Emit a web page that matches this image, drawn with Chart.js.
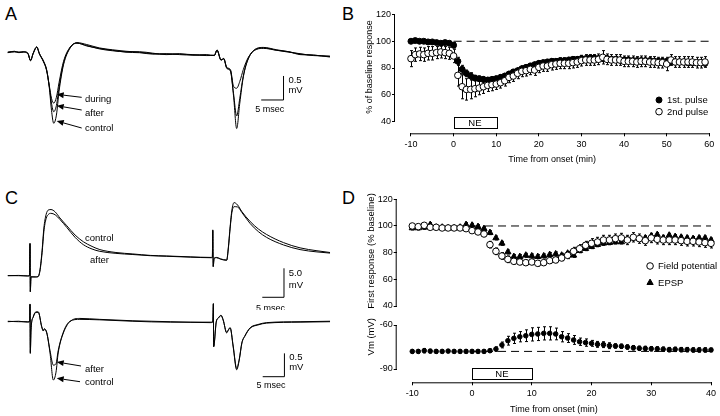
<!DOCTYPE html>
<html>
<head>
<meta charset="utf-8">
<script src="https://cdn.jsdelivr.net/npm/chart.js@4.4.0/dist/chart.umd.min.js"></script>
<style>
  html, body { margin: 0; padding: 0; background: #fff; }
  body { width: 720px; height: 416px; position: relative; overflow: hidden;
         font-family: "Liberation Sans", Arial, sans-serif; }
  canvas { position: absolute; }
  .tag { position: absolute; font-size: 18px; line-height: 18px; color: #000; }
</style>
</head>
<body>
<div class="tag" style="left:5px;top:4.6px">A</div>
<div class="tag" style="left:342px;top:4.6px">B</div>
<div class="tag" style="left:5px;top:189px">C</div>
<div class="tag" style="left:342px;top:189px">D</div>

<canvas id="traceA" style="left:0;top:25px" width="350" height="125"></canvas>
<canvas id="traceCtop" style="left:0;top:195px" width="350" height="115"></canvas>
<canvas id="traceCbot" style="left:0;top:295px" width="350" height="100"></canvas>
<canvas id="chartB" style="left:355px;top:0" width="365" height="170"></canvas>
<canvas id="chartDtop" style="left:355px;top:185px" width="365" height="130"></canvas>
<canvas id="chartDbot" style="left:355px;top:315px" width="365" height="101"></canvas>

<script>
const FONT = "'Liberation Sans', Arial, sans-serif";
Chart.defaults.font.family = FONT;
Chart.defaults.color = "#000";
Chart.defaults.animation = false;

// ─── Data: traces (ms, mV) ────────────────────────────────────

const A_CONTROL = [[-0.5,0.01],[1,0.03],[2,0],[3,0.02],[4,-0.01],[4.6,-0.17],[5.2,-0.01],[6,0.12],[6.6,-0.02],[7.5,-0.18],[8.2,-0.36],[8.8,-0.72],[9.3,-1.2],[9.8,-1.47],[10.4,-1.3],[11,-0.8],[12,-0.25],[13.5,0.1],[15,0.21],[17.2,0.17],[20,0.1],[23,0.06],[26,0.03],[29,0.01],[32,-0.02],[35,-0.03],[38,-0.02],[41,-0.05],[44,-0.05],[45.8,-0.06],[46.4,0.06],[47.3,-0.16],[47.9,-0.12],[48.6,-0.33],[49.4,-0.38],[50.1,-0.9],[50.8,-1.58],[51.5,-1.05],[52.3,-0.5],[53.4,-0.13],[55.3,0.09],[56.8,0.11],[59.8,0.06],[62.5,0.02],[65,-0.03],[68,-0.05],[71.7,-0.08]];
const A_AFTER = [[-0.5,0],[1,0.02],[2,0.01],[3,0.01],[4,-0.02],[4.6,-0.16],[5.2,-0.02],[6,0.11],[6.6,-0.03],[7.5,-0.19],[8.2,-0.37],[8.8,-0.7],[9.3,-1.05],[9.8,-1.23],[10.4,-1.1],[11,-0.72],[12,-0.22],[13.5,0.11],[15,0.2],[17.2,0.15],[20,0.08],[23,0.04],[26,0.02],[29,0.02],[32,-0.01],[35,-0.04],[38,-0.03],[41,-0.04],[44,-0.06],[45.8,-0.05],[46.4,0.05],[47.3,-0.15],[47.9,-0.13],[48.6,-0.32],[49.4,-0.37],[50.1,-0.85],[50.8,-1.32],[51.5,-0.95],[52.3,-0.48],[53.4,-0.12],[55.3,0.08],[56.8,0.1],[59.8,0.05],[62.5,0.01],[65,-0.02],[68,-0.06],[71.7,-0.07]];
const A_DURING = [[-0.5,0.01],[1,0.02],[2,0.01],[3,0.02],[4,-0.01],[4.6,-0.16],[5.2,-0.01],[6,0.12],[6.6,-0.02],[7.5,-0.17],[8.2,-0.35],[8.8,-0.68],[9.3,-0.95],[9.8,-1.05],[10.4,-0.93],[11,-0.62],[12,-0.18],[13.5,0.12],[15,0.2],[17.2,0.14],[20,0.09],[23,0.05],[26,0.01],[29,0],[32,-0.03],[35,-0.02],[38,-0.04],[41,-0.05],[44,-0.04],[45.8,-0.06],[46.4,0.05],[47.3,-0.15],[47.9,-0.12],[48.6,-0.31],[49.4,-0.35],[50.1,-0.7],[50.8,-0.74],[51.5,-0.6],[52.3,-0.35],[53.4,-0.1],[55.3,0.07],[56.8,0.09],[59.8,0.05],[62.5,0.02],[65,-0.04],[68,-0.05],[71.7,-0.09]];

const C_TOP_CONTROL = [[-0.5,0],[2,0.05],[4.1,-0.05],[4.5,0],[4.61,5.6],[4.68,-2.8],[4.84,-0.2],[5.8,-0.2],[6.45,-0.15],[6.9,1],[7.4,4.4],[7.8,8.2],[8.3,10.5],[8.9,11.35],[9.45,11.4],[10.4,11],[11.5,9.95],[13.1,8.6],[15,7],[16.9,5.85],[18.9,5.05],[20.7,4.5],[24.4,4],[28.3,3.75],[32.3,3.5],[36.1,3.4],[41.5,3.25],[46.4,3.15],[46.6,3.2],[46.7,7.9],[46.8,1.55],[47,3],[47.6,3.15],[48.5,2.9],[49.9,2.7],[50.3,5],[50.7,8.45],[51.1,11.3],[51.6,12.6],[52.4,12.2],[53.4,11.05],[55.3,9.35],[57.2,8.05],[59.1,7.1],[63,5.7],[66.8,4.8],[70.7,4.3],[73.7,4]];
const C_TOP_AFTER = [[-0.5,0.02],[2,0],[4.1,-0.03],[4.5,0],[4.61,5.5],[4.68,-2.7],[4.84,-0.2],[5.8,-0.22],[6.45,-0.18],[6.9,0.8],[7.4,4],[7.8,7.6],[8.3,9.8],[8.9,10.6],[9.45,10.75],[10.4,10.5],[11.5,9.7],[13.1,8.3],[15,6.6],[16.9,5.35],[18.9,4.6],[20.7,4.2],[24.4,3.85],[28.3,3.65],[32.3,3.45],[36.1,3.35],[41.5,3.2],[46.4,3.1],[46.6,3.15],[46.7,7.8],[46.8,1.6],[47,2.95],[47.6,3.1],[48.5,2.85],[49.9,2.65],[50.3,4.8],[50.7,8.2],[51.1,10.9],[51.6,11.9],[52.4,11.85],[53.4,10.9],[55.3,9],[57.2,7.6],[59.1,6.6],[63,5.3],[66.8,4.5],[70.7,4.1],[73.7,3.9]];

const C_BOT_CONTROL = [[-0.5,0],[2,0.01],[4.1,-0.01],[4.54,0.01],[4.61,0.38],[4.68,-0.68],[4.84,-0.18],[5.37,0.11],[5.99,0.21],[6.52,0.21],[7.3,-0.11],[7.67,-0.2],[7.9,-0.16],[8.46,-0.24],[9.22,-0.67],[9.98,-1.25],[10.6,-1.08],[11.1,-0.67],[12.3,-0.24],[13.8,0],[16.1,0.07],[20.7,0.05],[28.3,0.02],[36.9,0],[46.1,-0.02],[46.7,-0.01],[46.84,0.39],[46.9,-0.54],[47.5,-0.01],[48,0.08],[48.6,0.14],[49.1,0.04],[49.9,-0.24],[50.3,-0.18],[50.7,-0.13],[51.4,-0.54],[52.2,-1.03],[52.8,-0.82],[53.4,-0.46],[54.1,-0.31],[55.3,-0.14],[57.1,-0.07],[59.1,-0.03],[66.8,-0.01],[73.7,0]];
const C_BOT_AFTER = [[-0.5,0.01],[2,0],[4.1,0],[4.54,0],[4.61,0.37],[4.68,-0.66],[4.84,-0.17],[5.37,0.1],[5.99,0.2],[6.52,0.2],[7.3,-0.1],[7.67,-0.19],[7.9,-0.15],[8.46,-0.23],[9.22,-0.62],[9.98,-0.93],[10.6,-0.9],[11.1,-0.62],[12.3,-0.22],[13.8,0.01],[16.1,0.05],[20.7,0.04],[28.3,0.01],[36.9,-0.01],[46.1,-0.01],[46.7,0],[46.84,0.38],[46.9,-0.53],[47.5,0],[48,0.08],[48.6,0.13],[49.1,0.03],[49.9,-0.23],[50.3,-0.17],[50.7,-0.13],[51.4,-0.52],[52.2,-1.0],[52.8,-0.8],[53.4,-0.45],[54.1,-0.3],[55.3,-0.13],[57.1,-0.06],[59.1,-0.02],[66.8,0],[73.7,0.01]];

// ─── Data: panel B (time course, % of baseline) ───────────────

const B_TIME = [-10,-9,-8,-7,-6,-5,-4,-3,-2,-1,0,1,2,3,4,5,6,7,8,9,10,11,12,13,14,15,16,17,18,19,20,21,22,23,24,25,26,27,28,29,30,31,32,33,34,35,36,37,38,39,40,41,42,43,44,45,46,47,48,49,50,51,52,53,54,55,56,57,58,59];
const B_FIRST = [100,100.5,100,100,99.5,99.5,99,98.5,99,98.5, 97,85,79,76,74,72.5,72,71.5,71,71.5, 72,73,74,75.5,77,78,79.5,80.5,81.5,82.5, 83.5,84,84.5,85,85,85.5,85.5,86,86.5,86.5, 87,87,87.5,87.5,87,87,87,86.5,86.5,86, 86,86,85.5,85.5,85.5,85.5,85.5,85,85,85, 85,84.5,84.5,84.5,84.5,84,84,84,84,83.5];
const B_FIRST_ERR = [1,1,1,1,1,1,1,1.5,1.5,1.5, 2,3,3,2.5,2.5,2,2,2,2,2, 2,2,2,2,2,2,2,2,2,2, 2,2,2,2,2,2,2,2,2,2, 2,2,2,2,2,2,2,2,2,2, 2,2,2,2,2,2,2,2,2,2, 2,2,2,2,2,2,2,2,2,2];
const B_SECOND = [87,90,90.5,90,91,91,91.5,92,91.5,91, 89,74.5,66,64,64,64.5,65,66,67,67.5, 68,69,70.5,73,74,76,77.5,78,79,78.5, 80.5,81.5,81.5,82.5,83,83.5,83.5,83.5,84,84.5, 85.5,86,86,86,86.5,88,86.5,86,86,86, 85,85,85,84.5,85,85,84.5,84.5,84,84, 83,86,84.5,84.5,84.5,84.5,84.5,84,84,84.5];
const B_SECOND_ERR = [6,5,5,5,5,5,4.5,4.5,4.5,4.5, 5,8,9,8,7,6,5,5,4.5,4.5, 4,4,4,4,4,4,4,4,4,4, 4,4,4,4,4,4,4,4,4,4, 4,4,4,4,4,5,4,4,4,4, 4,4,4,4,4,4,4,4,4,4, 5,4,4,4,4,4,4,4,4,4];
const B_X_TICKS = [-10, 0, 10, 20, 30, 40, 50, 60];
const B_Y_TICKS = [40, 60, 80, 100, 120];

// ─── Data: panel D (first response, Vm) ───────────────────────

const D_TIME = [-10,-9,-8,-7,-6,-5,-4,-3,-2,-1,0,1,2,3,4,5,6,7,8,9,10,11,12,13,14,15,16,17,18,19,20,21,22,23,24,25,26,27,28,29,30,31,32,33,34,35,36,37,38,39,40];
const D_FIELD = [100,99.5,100.5,99,99,98.5,98.5,98.5,98.5,98, 96.5,95.5,94,86,81,77.5,75,73.5,73,72.5, 73,72,72.5,74,74.5,76,78,81,83,85.5, 87,88,89.5,89.5,90.5,91,89.5,91.5,90.5,89, 91,90,89.5,89.5,89.5,89,88.5,88.5,88,87.5, 87];
const D_FIELD_ERR = [1.5,1.5,1.5,1.5,1.5,1.5,1.5,1.5,1.5,1.5, 1.5,1.5,2,2.5,2.5,2.5,2.5,2,2,2, 2,2,2,2,2,2,2.5,3,3,3, 3.5,3.5,3.5,3.5,3.5,3.5,3.5,3.5,3.5,3.5, 3.5,3.5,3.5,3.5,3.5,3.5,3.5,3.5,3.5,3.5, 3.5];
const D_EPSP = [98.5,98.5,99,101,99,99,98.5,98.5,99,101, 100.5,99.5,98,95,91,87,80.5,77,77,78, 77.5,77,77.5,78.5,79,78,79.5,78,81.5,83, 84.5,86,87,87.5,88,88,90,91,90.5,91, 92.5,93.5,91,93,92,91.5,91,90.5,91,91, 89.5];
const D_EPSP_ERR = [1.5,1.5,1.5,1.5,1.5,1.5,1.5,1.5,1.5,1.5, 1.5,1.5,1.5,1.5,1.5,1.5,1.5,1.5,1.5,1.5, 1.5,1.5,1.5,1.5,1.5,1.5,1.5,1.5,1.5,1.5, 1.5,1.5,1.5,1.5,1.5,1.5,1.5,1.5,1.5,1.5, 1.5,1.5,1.5,1.5,1.5,1.5,1.5,1.5,1.5,1.5, 1.5];
const D_VM = [-78,-78,-77.5,-77.8,-78,-78,-77.8,-78,-78,-78, -78,-78,-78,-77.5,-76.4,-73.6,-70.7,-69.1,-68,-67.3, -66.4,-66.1,-65.7,-65.7,-66.1,-68,-68.9,-70.2,-71.4,-72, -72.5,-73.2,-73.4,-74.1,-74.3,-74.5,-75,-75.5,-75.9,-76, -76.2,-76.3,-76.5,-76.8,-76.6,-76.8,-76.8,-77,-77,-77, -77];
const D_VM_ERR = [1.2,1.2,1.5,1.2,1.2,1,1,1,1,1, 1,1,1,1,1.5,2,3,3.5,3.5,4, 4.5,4.5,4.5,4.5,4,3.5,3,3,2.5,2.5, 2,2,2,2,1.5,1.5,1.5,1.5,1.5,1.5, 1.5,1.5,1.5,1.5,1.5,1.5,1.5,1.5,1.5,1.5, 1.2];
const D_X_TICKS = [-10, 0, 10, 20, 30, 40];
const D_Y_TICKS = [40, 60, 80, 100, 120];
const D_VM_TICKS = [-90, -60];
const D_VM_REST = -78;

const NE_START = 0;
const NE_END = 10;

// ─── Plugins ──────────────────────────────────────────────────

const toXY = (pairs) => pairs.map(([x, y]) => ({ x, y }));
const zipXY = (xs, ys) => xs.map((x, i) => ({ x, y: ys[i] }));

// vertical error bars with caps, drawn under the markers
const errorBars = {
  id: "errorBars",
  beforeDatasetsDraw(chart) {
    const { ctx } = chart;
    const ys = chart.scales.y;
    ctx.save();
    ctx.strokeStyle = "#000";
    ctx.lineWidth = 1;
    chart.data.datasets.forEach((ds, i) => {
      if (!ds.errors) return;
      chart.getDatasetMeta(i).data.forEach((pt, j) => {
        const v = ds.data[j].y, e = ds.errors[j];
        const lo = ys.getPixelForValue(v - e), hi = ys.getPixelForValue(v + e);
        const x = Math.round(pt.x) + 0.5;
        ctx.beginPath();
        ctx.moveTo(x, lo); ctx.lineTo(x, hi);
        ctx.moveTo(x - 1.5, lo); ctx.lineTo(x + 1.5, lo);
        ctx.moveTo(x - 1.5, hi); ctx.lineTo(x + 1.5, hi);
        ctx.stroke();
      });
    });
    ctx.restore();
  },
};

// axis lines that run only between the first and last tick
const axisLines = {
  id: "axisLines",
  afterDraw(chart) {
    const { ctx, chartArea } = chart;
    ctx.save();
    ctx.strokeStyle = "#000";
    ctx.lineWidth = 1;
    ["x", "y"].forEach((id) => {
      const s = chart.scales[id];
      if (!s || !s.options.display || !s.ticks.length) return;
      const a = s.getPixelForValue(s.ticks[0].value);
      const b = s.getPixelForValue(s.ticks[s.ticks.length - 1].value);
      ctx.beginPath();
      if (id === "x") {
        ctx.moveTo(a, chartArea.bottom + 0.5); ctx.lineTo(b, chartArea.bottom + 0.5);
      } else {
        ctx.moveTo(chartArea.left - 0.5, a); ctx.lineTo(chartArea.left - 0.5, b);
      }
      ctx.stroke();
    });
    ctx.restore();
  },
};

function arrow(ctx, x0, y0, x1, y1) {
  const ang = Math.atan2(y1 - y0, x1 - x0);
  const len = 7, half = 3;
  ctx.beginPath();
  ctx.moveTo(x0, y0);
  ctx.lineTo(x1 - Math.cos(ang) * len, y1 - Math.sin(ang) * len);
  ctx.stroke();
  ctx.beginPath();
  ctx.moveTo(x1, y1);
  ctx.lineTo(x1 - Math.cos(ang) * len - Math.sin(ang) * half, y1 - Math.sin(ang) * len + Math.cos(ang) * half);
  ctx.lineTo(x1 - Math.cos(ang) * len + Math.sin(ang) * half, y1 - Math.sin(ang) * len - Math.cos(ang) * half);
  ctx.closePath();
  ctx.fill();
}

// labels, arrows, scale-bar text, legend, NE bar, rotated y title
const extras = {
  id: "extras",
  afterDraw(chart, args, opts) {
    const { ctx, chartArea } = chart;
    const xs = chart.scales.x, ys = chart.scales.y;
    const px = (v) => xs.getPixelForValue(v), py = (v) => ys.getPixelForValue(v);
    ctx.save();
    ctx.fillStyle = "#000";
    ctx.strokeStyle = "#000";
    ctx.lineWidth = 1;
    ctx.textBaseline = "middle";

    (opts.texts || []).forEach((t) => {
      ctx.font = `${t.size || 9.5}px ${FONT}`;
      ctx.textAlign = t.align || "left";
      ctx.fillText(t.text, px(t.x), py(t.y));
    });
    (opts.arrows || []).forEach((a) => arrow(ctx, px(a[0]), py(a[1]), px(a[2]), py(a[3])));

    if (opts.ne) {
      const x0 = px(NE_START), x1 = px(NE_END);
      const y0 = chartArea.bottom - opts.ne.top, y1 = chartArea.bottom - opts.ne.bottom;
      ctx.strokeRect(Math.round(x0) + 0.5, Math.round(y0) + 0.5, Math.round(x1 - x0), Math.round(y1 - y0));
      ctx.font = `9.5px ${FONT}`;
      ctx.textAlign = "center";
      ctx.fillText("NE", (x0 + x1) / 2, (y0 + y1) / 2 + 0.5);
    }

    if (opts.legend) {
      const L = opts.legend;
      L.items.forEach((it, i) => {
        const x = px(L.x), y = py(L.y) + i * L.gap;
        ctx.fillStyle = it.fill;
        ctx.strokeStyle = "#000";
        Chart.helpers.drawPoint(ctx, { pointStyle: it.style, radius: it.radius, borderWidth: 1, rotation: 0 }, x, y);
        ctx.fillStyle = "#000";
        ctx.font = `9.5px ${FONT}`;
        ctx.textAlign = "left";
        ctx.fillText(it.label, x + 8, y + 0.5);
      });
    }

    if (opts.yTitle) {
      const T = opts.yTitle;
      ctx.translate(T.x, T.y);
      ctx.rotate(-Math.PI / 2);
      ctx.font = `${T.size}px ${FONT}`;
      ctx.textAlign = "center";
      ctx.fillText(T.text, 0, 0);
    }
    ctx.restore();
  },
};

// ─── Trace charts (A, C) ──────────────────────────────────────

function traceChart(id, traces, xr, yr, bar, notes) {
  const datasets = traces.map((t) => ({
    data: toXY(t),
    borderColor: "#000",
    borderWidth: 1,
    pointRadius: 0,
    cubicInterpolationMode: "monotone",
  }));
  // scale bar
  datasets.push({
    data: [
      { x: bar.x - bar.dx, y: bar.y },
      { x: bar.x, y: bar.y },
      { x: bar.x, y: bar.y + bar.dy },
    ],
    borderColor: "#000",
    borderWidth: 1,
    pointRadius: 0,
  });
  const texts = notes.texts.concat([
    { text: bar.v1, x: bar.x + 1.1, y: bar.y + bar.dy * 0.83 },
    { text: "mV", x: bar.x + 1.1, y: bar.y + bar.dy * 0.4 },
    { text: "5 msec", x: bar.x - 3.1, y: bar.y - bar.dy * 0.38, size: 9, align: "center" },
  ]);
  return new Chart(document.getElementById(id), {
    type: "line",
    data: { datasets },
    options: {
      responsive: false,
      devicePixelRatio: 1,
      layout: { padding: 0 },
      plugins: { legend: { display: false }, tooltip: { enabled: false }, extras: { texts, arrows: notes.arrows } },
      scales: {
        x: { type: "linear", display: false, min: xr[0], max: xr[1] },
        y: { type: "linear", display: false, min: yr[0], max: yr[1] },
      },
    },
    plugins: [extras],
  });
}

traceChart("traceA", [A_CONTROL, A_AFTER, A_DURING], [-2.24, 76.2], [-2.027, 0.577],
  { x: 61.3, y: -0.985, dx: 5, dy: 0.5, v1: "0.5" },
  {
    texts: [
      { text: "during", x: 16.8, y: -0.97 },
      { text: "after", x: 16.8, y: -1.267 },
      { text: "control", x: 16.8, y: -1.569 },
    ],
    arrows: [[16.07, -0.93, 10.47, -0.867], [16.07, -1.194, 10.47, -1.104], [16.07, -1.569, 10.47, -1.423]],
  });

traceChart("traceCtop", [C_TOP_CONTROL, C_TOP_AFTER], [-2.3, 78.3], [-5.91, 13.91],
  { x: 63.1, y: -3.72, dx: 5, dy: 5, v1: "5.0" },
  {
    texts: [
      { text: "control", x: 17.28, y: 6.45 },
      { text: "after", x: 18.43, y: 2.59 },
    ],
    arrows: [],
  });

traceChart("traceCbot", [C_BOT_CONTROL, C_BOT_AFTER], [-2.3, 78.3], [-1.57, 0.572],
  { x: 63.2, y: -1.178, dx: 5, dy: 0.5, v1: "0.5" },
  {
    texts: [
      { text: "after", x: 17.28, y: -1.019 },
      { text: "control", x: 17.28, y: -1.291 },
    ],
    arrows: [[16.36, -0.949, 10.76, -0.863], [16.13, -1.285, 10.76, -1.212]],
  });

// ─── Time-course charts (B, D) ────────────────────────────────

function axisX(min, max, ticks, title, height, titlePad) {
  return {
    type: "linear",
    min, max,
    afterBuildTicks: (s) => { s.ticks = ticks.map((v) => ({ value: v })); },
    afterFit: (s) => { s.height = height; },
    border: { display: false },
    grid: { drawOnChartArea: false, drawTicks: true, tickLength: 3, color: "#000" },
    ticks: { font: { size: 9 }, padding: 3, maxRotation: 0 },
    title: title ? { display: true, text: title, font: { size: 9 }, padding: { top: 0, bottom: titlePad } } : undefined,
  };
}

function axisY(min, max, ticks, width) {
  return {
    type: "linear",
    min, max,
    afterBuildTicks: (s) => { s.ticks = ticks.map((v) => ({ value: v })); },
    afterFit: (s) => { s.width = width; },
    border: { display: false },
    grid: { drawOnChartArea: false, drawTicks: true, tickLength: 3, color: "#000" },
    ticks: { font: { size: 9 }, padding: 1 },
  };
}

const dashed = (x0, x1, y) => ({
  data: [{ x: x0, y }, { x: x1, y }],
  showLine: true,
  borderColor: "#000",
  borderWidth: 1,
  borderDash: [8, 5],
  pointRadius: 0,
});

const marks = (xs, ys, errs, style, radius, fill) => ({
  data: zipXY(xs, ys),
  errors: errs,
  pointStyle: style,
  pointRadius: radius,
  pointBackgroundColor: fill,
  pointBorderColor: "#000",
  pointBorderWidth: 1,
  showLine: false,
  clip: false,
});

const baseOpts = (padding, scales, extra) => ({
  responsive: false,
  devicePixelRatio: 1,
  layout: { padding },
  plugins: { legend: { display: false }, tooltip: { enabled: false }, extras: extra },
  scales,
});

// B
new Chart(document.getElementById("chartB"), {
  type: "scatter",
  data: {
    datasets: [
      marks(B_TIME, B_SECOND, B_SECOND_ERR, "circle", 3.3, "#fff"),
      marks(B_TIME, B_FIRST, B_FIRST_ERR, "circle", 3, "#000"),
      dashed(0, 60, 100),
    ],
  },
  options: baseOpts(
    { top: 14.5, right: 10.7, bottom: 0, left: 0 },
    {
      x: axisX(-13.75, 60, B_X_TICKS, "Time from onset (min)", 36.7, 5),
      y: axisY(31.2, 120, B_Y_TICKS, 40),
    },
    {
      ne: { top: 16.3, bottom: 5.3 },
      legend: {
        x: 48.2, y: 56.1, gap: 11.7,
        items: [
          { label: "1st. pulse", style: "circle", radius: 3, fill: "#000" },
          { label: "2nd pulse", style: "circle", radius: 3.3, fill: "#fff" },
        ],
      },
      yTitle: { text: "% of baseline response", x: 15, y: 67, size: 9 },
    }
  ),
  plugins: [errorBars, axisLines, extras],
});

// D top
new Chart(document.getElementById("chartDtop"), {
  type: "scatter",
  data: {
    datasets: [
      marks(D_TIME, D_FIELD, D_FIELD_ERR, "circle", 3.3, "#fff"),
      marks(D_TIME, D_EPSP, D_EPSP_ERR, "triangle", 3.6, "#000"),
      dashed(0, 40, 100),
    ],
  },
  options: baseOpts(
    { top: 14.3, right: 9, bottom: 9, left: 0 },
    {
      x: { type: "linear", display: false, min: -12.61, max: 40 },
      y: axisY(40, 120, D_Y_TICKS, 41.7),
    },
    {
      legend: {
        x: 29.8, y: 70, gap: 16.7,
        items: [
          { label: "Field potential", style: "circle", radius: 3.3, fill: "#fff" },
          { label: "EPSP", style: "triangle", radius: 3.6, fill: "#000" },
        ],
      },
      yTitle: { text: "First response (% baseline)", x: 16.5, y: 66, size: 9.5 },
    }
  ),
  plugins: [errorBars, axisLines, extras],
});

// D bottom
new Chart(document.getElementById("chartDbot"), {
  type: "scatter",
  data: {
    datasets: [
      marks(D_TIME, D_VM, D_VM_ERR, "circle", 2.3, "#000"),
      dashed(0, 40, D_VM_REST),
    ],
  },
  options: baseOpts(
    { top: 10, right: 9, bottom: 0, left: 0 },
    {
      x: axisX(-12.61, 40, D_X_TICKS, "Time from onset (min)", 33.7, 1.5),
      y: axisY(-99.06, -60, D_VM_TICKS, 41.7),
    },
    {
      ne: { top: 14, bottom: 3.3 },
      yTitle: { text: "Vm (mV)", x: 16.5, y: 21.7, size: 9.5 },
    }
  ),
  plugins: [errorBars, axisLines, extras],
});
</script>
</body>
</html>
